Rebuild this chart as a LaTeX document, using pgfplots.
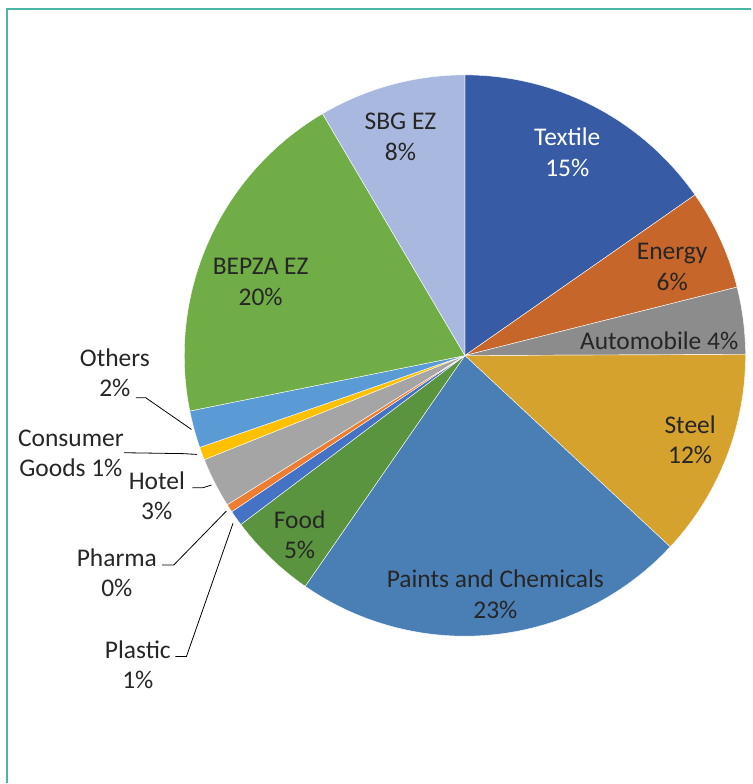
\documentclass[border=0pt]{standalone}
\usepackage{pgfplots}
\pgfplotsset{compat=1.18}
\usepackage{fontspec}
\setmainfont{Carlito}
\definecolor{cTextile}{HTML}{375CA5}
\definecolor{cEnergy}{HTML}{C7662B}
\definecolor{cAuto}{HTML}{8C8C8C}
\definecolor{cSteel}{HTML}{D5A22D}
\definecolor{cPaints}{HTML}{4A7FB5}
\definecolor{cFood}{HTML}{5B943E}
\definecolor{cPlastic}{HTML}{4472C4}
\definecolor{cPharma}{HTML}{ED7D31}
\definecolor{cHotel}{HTML}{A5A5A5}
\definecolor{cConsumer}{HTML}{FFC000}
\definecolor{cOthers}{HTML}{5B9BD5}
\definecolor{cBepza}{HTML}{70AD47}
\definecolor{cSbg}{HTML}{A8B8DE}
\definecolor{frame}{HTML}{4BB5A5}
\definecolor{txt}{HTML}{262626}
% shares in percent (clockwise from 12 o'clock)
\def\vTextile{15.3}
\def\vEnergy{5.78}
\def\vAuto{3.86}
\def\vSteel{12.0}
\def\vPaints{22.7}
\def\vFood{5.08}
\def\vPlastic{0.89}
\def\vPharma{0.47}
\def\vHotel{2.875}
\def\vConsumer{0.74}
\def\vOthers{2.14}
\def\vBepza{19.7}
\def\vSbg{8.47}
\pgfmathsetmacro\tot{\vTextile+\vEnergy+\vAuto+\vSteel+\vPaints+\vFood+\vPlastic+\vPharma+\vHotel+\vConsumer+\vOthers+\vBepza+\vSbg}
\pgfmathsetmacro\cA{0}
\pgfmathsetmacro\cB{\cA+360*\vTextile/\tot}
\pgfmathsetmacro\cC{\cB+360*\vEnergy/\tot}
\pgfmathsetmacro\cD{\cC+360*\vAuto/\tot}
\pgfmathsetmacro\cE{\cD+360*\vSteel/\tot}
\pgfmathsetmacro\cF{\cE+360*\vPaints/\tot}
\pgfmathsetmacro\cG{\cF+360*\vFood/\tot}
\pgfmathsetmacro\cH{\cG+360*\vPlastic/\tot}
\pgfmathsetmacro\cI{\cH+360*\vPharma/\tot}
\pgfmathsetmacro\cJ{\cI+360*\vHotel/\tot}
\pgfmathsetmacro\cK{\cJ+360*\vConsumer/\tot}
\pgfmathsetmacro\cL{\cK+360*\vOthers/\tot}
\pgfmathsetmacro\cM{\cL+360*\vBepza/\tot}
\pgfmathsetmacro\cN{\cM+360*\vSbg/\tot}
\newcommand\slice[3]{\addplot[fill=#1,draw=white,line width=0.4pt,domain=#2:#3,samples=80] ({465.5+281*sin(x)},{428+281*cos(x)}) -- (465.5,428) -- cycle;}
\tikzset{lab/.style={font=\fontsize{25.5}{30.5}\selectfont,text=txt,align=center,inner sep=0pt}}
\begin{document}
\begin{tikzpicture}
\begin{axis}[width=752pt,height=784pt,scale only axis,xmin=0,xmax=752,ymin=0,ymax=784,hide axis,clip=false]
\path (0,0) rectangle (752,784);
\slice{cTextile}{\cA}{\cB}
\slice{cEnergy}{\cB}{\cC}
\slice{cAuto}{\cC}{\cD}
\slice{cSteel}{\cD}{\cE}
\slice{cPaints}{\cE}{\cF}
\slice{cFood}{\cF}{\cG}
\slice{cPlastic}{\cG}{\cH}
\slice{cPharma}{\cH}{\cI}
\slice{cHotel}{\cI}{\cJ}
\slice{cConsumer}{\cJ}{\cK}
\slice{cOthers}{\cK}{\cL}
\slice{cBepza}{\cL}{\cM}
\slice{cSbg}{\cM}{\cN}
% leader lines
\addplot[black,line width=0.8pt] coordinates {(136,385.7) (146,385.7) (191.7,354)};
\addplot[black,line width=0.8pt] coordinates {(124,330.7) (183,329.8) (197,329)};
\addplot[black,line width=0.8pt] coordinates {(192.7,295.7) (203.3,295.7) (211.7,298.3)};
\addplot[black,line width=0.8pt] coordinates {(162.3,218.3) (174,218.3) (226.7,272.3)};
\addplot[black,line width=0.8pt] coordinates {(175.7,126.7) (186.7,126.7) (233.3,260)};
% frame
\draw[frame,line width=2pt] (7,0) -- (7,775) -- (752,775);
% labels
\node[lab,text=white] at (568,631.5) {Textile\\15\%};
\node[lab] at (673,516.5) {Energy\\6\%};
\node[lab] at (660,443) {Automobile 4\%};
\node[lab] at (691,343.5) {Steel\\12\%};
\node[lab] at (496,189) {Paints and Chemicals\\23\%};
\node[lab] at (300,248.5) {Food\\5\%};
\node[lab] at (261,501.5) {BEPZA EZ\\20\%};
\node[lab] at (401,647) {SBG EZ\\8\%};
\node[lab] at (115,410.5) {Others\\2\%};
\node[lab] at (71,330) {Consumer\\Goods 1\%};
\node[lab] at (157,287.5) {Hotel\\3\%};
\node[lab] at (117,210.5) {Pharma\\0\%};
\node[lab] at (138,118.5) {Plastic\\1\%};
\end{axis}
\end{tikzpicture}
\end{document}
